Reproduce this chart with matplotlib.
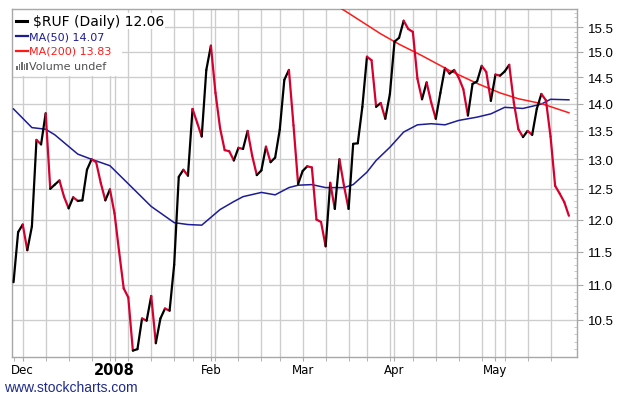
import matplotlib
matplotlib.use("Agg")
import matplotlib.pyplot as plt
from matplotlib.collections import LineCollection
from matplotlib.patches import Rectangle
import matplotlib.ticker as mtick
import numpy as np
import pandas as pd

# trading days, Nov 29 2007 .. May 23 2008
holidays = ["2007-12-25", "2008-01-01", "2008-01-21", "2008-02-18", "2008-03-21"]
dates = pd.bdate_range("2007-11-29", "2008-05-23")
dates = dates[~dates.isin(pd.to_datetime(holidays))]

close = [11.04, 11.80,
         11.92, 11.52, 11.89, 13.34, 13.26, 13.82, 12.50, 12.57, 12.64, 12.37,
         12.18, 12.36, 12.30, 12.31, 12.82, 13.00, 12.95, 12.60, 12.31, 12.49,
         12.10, 11.50, 10.95, 10.82, 10.08, 10.10, 10.52, 10.49, 10.84, 10.18,
         10.52, 10.66, 10.63, 11.30, 12.70, 12.82, 12.72, 13.90, 13.65, 13.40,
         14.64, 15.12, 14.20, 13.55, 13.16, 13.14, 12.98, 13.20, 13.18, 13.50,
         13.06, 12.73, 12.81, 13.22, 12.95, 13.03, 13.52, 14.45, 14.64, 13.60,
         12.58, 12.80, 12.88, 12.86, 12.00, 11.96, 11.58, 12.60, 12.17, 13.00,
         12.55, 12.17, 13.27, 13.28, 13.94, 14.90, 14.83, 13.94, 14.01, 13.72,
         14.18, 15.20, 15.28, 15.63, 15.46, 15.40, 14.47, 14.08, 14.40, 14.02,
         13.72, 14.20, 14.68, 14.57, 14.64, 14.49, 14.27, 13.78, 14.37, 14.42,
         14.72, 14.60, 14.05, 14.55, 14.53, 14.61, 14.74, 14.02, 13.53, 13.39,
         13.50, 13.43, 13.90, 14.18, 14.06, 13.40, 12.55, 12.42, 12.28, 12.06]

# moving averages at some trading days (index into dates)
ma50_day = [0, 4, 7, 9, 14, 17, 21, 24, 30, 35, 38, 41, 45, 48, 50, 54, 57, 60,
            62, 65, 68, 72, 74, 77, 79, 82, 85, 88, 91, 94, 97, 101, 104, 107,
            111, 115, 117, 121]
ma50 = [13.90, 13.56, 13.53, 13.43, 13.09, 13.00, 12.89, 12.66, 12.21, 11.95,
        11.92, 11.91, 12.16, 12.29, 12.37, 12.44, 12.40, 12.52, 12.56, 12.57,
        12.52, 12.52, 12.57, 12.78, 12.98, 13.21, 13.48, 13.61, 13.63, 13.61,
        13.69, 13.75, 13.81, 13.93, 13.91, 13.99, 14.08, 14.07]
ma200_day = [68, 72, 80, 84, 89, 95, 101, 106, 110, 115, 121]
ma200 = [16.08, 15.85, 15.36, 15.15, 14.92, 14.63, 14.38, 14.20, 14.09, 14.00, 13.83]

yticks = [10.5, 11.0, 11.5, 12.0, 12.5, 13.0, 13.5, 14.0, 14.5, 15.0, 15.5]

W, H = 620, 402
fig = plt.figure(figsize=(W / 100, H / 100), dpi=100)
fig.patch.set_facecolor("white")

def fx(x):
    return x / W

def fy(y):
    return 1 - y / H

ax = fig.add_axes([fx(11.7), fy(358), (576.7 - 11.7) / W, (358 - 10) / H])
ax.set_yscale("log")
ax.set_xlim(-0.4, 122.7)
ax.set_ylim(9.995, 15.876)

gridc = "#cdcdcd"
n = len(close)
x = np.arange(n)

# week starts and month starts
week = dates.isocalendar().week.values
week_start = [i for i in range(n) if i == 0 or week[i] != week[i - 1]]
month_start = [i for i in range(1, n) if dates[i].month != dates[i - 1].month]
for i in sorted(set(week_start[1:] + month_start)):
    ax.axvline(i, color=gridc, lw=0.95, zorder=0)
for v in yticks:
    ax.axhline(v, color=gridc, lw=0.95, zorder=0)

# price line, black on up days, red on down days
segs = [[(x[k - 1], close[k - 1]), (x[k], close[k])] for k in range(1, n)]
cols = ["#000000" if close[k] >= close[k - 1] else "#d6002f" for k in range(1, n)]
lc = LineCollection(segs, colors=cols, linewidths=1.6, capstyle="round", zorder=4)
ax.add_collection(lc)

ax.plot(ma50_day, ma50, color="#1c1c96", lw=1.1, zorder=3)
ax.plot(ma200_day, ma200, color="#ff1a1a", lw=1.1, zorder=3)

# axes styling
for s in ax.spines.values():
    s.set_color("#a8a8a8")
    s.set_linewidth(1.0)
ax.yaxis.tick_right()
ax.yaxis.set_major_locator(mtick.FixedLocator(yticks))
ax.yaxis.set_major_formatter(mtick.FormatStrFormatter("%.1f"))
ax.yaxis.set_minor_locator(mtick.FixedLocator(np.arange(10.0, 15.9, 0.1)))
ax.yaxis.set_minor_formatter(mtick.NullFormatter())
ax.tick_params(axis="y", which="major", length=4, color="#a8a8a8", pad=4,
               labelsize=9.5, labelcolor="black")
ax.tick_params(axis="y", which="minor", length=2, direction="in", color="#c0c0c0")
for lab in ax.get_yticklabels():
    lab.set_fontname("Liberation Sans")

ax.xaxis.set_major_locator(mtick.FixedLocator(month_start))
ax.xaxis.set_minor_locator(mtick.FixedLocator(week_start))
ax.xaxis.set_major_formatter(mtick.NullFormatter())
ax.tick_params(axis="x", which="both", length=3, color="#a8a8a8")

# month labels
xlabels = ["Dec", "2008", "Feb", "Mar", "Apr", "May"]
for i, lab in zip(month_start, xlabels):
    if lab == "2008":
        ax.text(i, -0.035, lab, transform=ax.get_xaxis_transform(), ha="center",
                va="center", fontsize=10.5, fontweight="bold", family="DejaVu Sans")
    else:
        ax.text(i, -0.035, lab, transform=ax.get_xaxis_transform(), ha="center",
                va="center", fontsize=8.5, family="DejaVu Sans")

# legend block
ax.add_patch(Rectangle((fx(11.7), fy(77)), fx(110), 67 / H, transform=fig.transFigure,
                       facecolor="white", edgecolor="none", zorder=2))
fig.text(fx(33), fy(22), "$RUF (Daily) 12.06", fontsize=10, va="center",
         family="DejaVu Sans", color="black",
         bbox=dict(facecolor="white", edgecolor="none", pad=0.5))
fig.lines.append(plt.Line2D([fx(16), fx(27)], [fy(22), fy(22)], color="black",
                            lw=2.2, transform=fig.transFigure))
leg = [("MA(50) 14.07", "#1c1c96", 37), ("MA(200) 13.83", "#ff1a1a", 52)]
for txt, c, yy in leg:
    fig.lines.append(plt.Line2D([fx(16), fx(28)], [fy(yy), fy(yy)], color=c,
                                lw=1.6, transform=fig.transFigure))
    fig.text(fx(29), fy(yy), txt, fontsize=8, va="center", family="DejaVu Sans", color=c)
bars = [(16, 4), (18.5, 6), (21, 8), (23.5, 6), (26, 7)]
for bx, bh in bars:
    fig.patches.append(Rectangle((fx(bx), fy(71)), 1.6 / W, bh / H, transform=fig.transFigure,
                                 facecolor="#707070", edgecolor="none"))
fig.text(fx(29), fy(67), "Volume undef", fontsize=8, va="center", family="DejaVu Sans",
         color="#505050")

fig.text(fx(4), fy(388), "www.stockcharts.com", fontsize=10, va="center",
         family="Liberation Sans", color="#1e2a8c")

fig.savefig("out.png", dpi=100)
